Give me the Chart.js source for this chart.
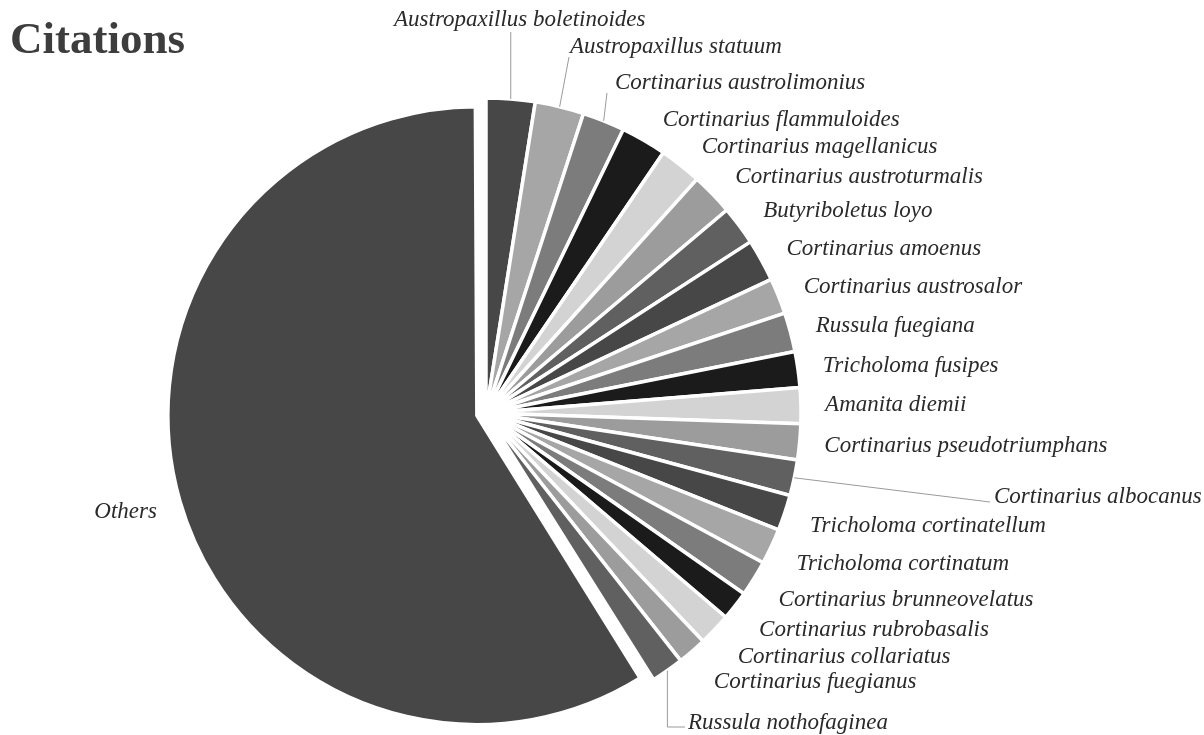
<!DOCTYPE html>
<html>
<head>
<meta charset="utf-8">
<script src="https://cdn.jsdelivr.net/npm/chart.js@4.4.1/dist/chart.umd.min.js"></script>
<style>
  html, body { margin: 0; padding: 0; background: #ffffff; }
  #wrap { position: relative; width: 1204px; height: 735px; }
</style>
</head>
<body>
<div id="wrap"><canvas id="chart" width="1204" height="735"></canvas></div>
<script>
// Species, in drawing order (clockwise from 12 o'clock)
const species = [
  'Austropaxillus boletinoides',
  'Austropaxillus statuum',
  'Cortinarius austrolimonius',
  'Cortinarius flammuloides',
  'Cortinarius magellanicus',
  'Cortinarius austroturmalis',
  'Butyriboletus loyo',
  'Cortinarius amoenus',
  'Cortinarius austrosalor',
  'Russula fuegiana',
  'Tricholoma fusipes',
  'Amanita diemii',
  'Cortinarius pseudotriumphans',
  'Cortinarius albocanus',
  'Tricholoma cortinatellum',
  'Tricholoma cortinatum',
  'Cortinarius brunneovelatus',
  'Cortinarius rubrobasalis',
  'Cortinarius collariatus',
  'Cortinarius fuegianus',
  'Russula nothofaginea',
  'Others'
];

// Number of citations per species
const citations = [15, 15, 13, 14, 13, 13, 12, 13, 11, 12, 11, 11, 11, 11, 11, 11, 11, 9, 10, 9, 10, 353];

// Grey palette, cycled over the slices
const greys = ['#474747', '#a6a6a6', '#7c7c7c', '#1b1b1b', '#d3d3d3', '#9c9c9c', '#606060'];

const chartTitle = 'Citations';

// Pie geometry
const PIE_RADIUS = 315;
const EXPLODED = 'Others';
const EXPLODE_PX = 9.5;        // how far the exploded slice is pulled out
const EXPLODED_RADIUS = 309;   // the pulled-out slice is drawn a little smaller

// Labels that sit away from their slice and are joined to it by a leader line
const callouts = {
  0:  { left: 394, y: 20,  path: p => [[p.x, p.y], [p.x, 32]] },
  1:  { left: 570, y: 47,  path: p => [[p.x, p.y], [569, 57]] },
  2:  { left: 615, y: 83,  path: p => [[p.x, p.y], [607, 93]] },
  13: { left: 994, y: 497, path: p => [[p.x, p.y], [990, 502]] },
  20: { left: 688, y: 723, path: p => [[p.x, p.y], [p.x, 727], [685, 727]] }
};

const LABEL_FONT = 'italic 23px "Liberation Serif", "Times New Roman", serif';
const LABEL_COLOR = '#2a2a2a';
const LABEL_GAP = 24;

const explodeSlice = {
  id: 'explodeSlice',
  afterDatasetsUpdate(chart) {
    const arcs = chart.getDatasetMeta(0).data;
    const i = species.indexOf(EXPLODED);
    // ArcElement adds offset/4 to the radius when it pulls a slice out
    if (arcs[i]) arcs[i].outerRadius = EXPLODED_RADIUS - EXPLODE_PX;
  }
};

const sliceLabels = {
  id: 'sliceLabels',
  afterDatasetsDraw(chart) {
    const ctx = chart.ctx;
    const arcs = chart.getDatasetMeta(0).data;
    ctx.save();
    ctx.font = LABEL_FONT;
    ctx.fillStyle = LABEL_COLOR;
    ctx.textBaseline = 'middle';
    arcs.forEach((arc, i) => {
      const mid = (arc.startAngle + arc.endAngle) / 2;
      const pulled = species[i] === EXPLODED;
      const shift = pulled ? EXPLODE_PX : 0;
      const radius = pulled ? EXPLODED_RADIUS : arc.outerRadius;
      const cx = arc.x + Math.cos(mid) * shift;
      const cy = arc.y + Math.sin(mid) * shift;
      const s = Math.sin(mid), c = Math.cos(mid);
      const co = callouts[i];
      if (co) {
        const edge = { x: cx + c * radius, y: cy + s * radius };
        const pts = co.path(edge);
        ctx.strokeStyle = '#9a9a9a';
        ctx.lineWidth = 1;
        ctx.beginPath();
        pts.forEach(([x, y], k) => (k ? ctx.lineTo(x, y) : ctx.moveTo(x, y)));
        ctx.stroke();
        ctx.textAlign = 'left';
        ctx.fillText(species[i], co.left, co.y);
        return;
      }
      const r = radius + LABEL_GAP;
      const right = c >= 0;
      const ax = cx + c * r + (right ? 8 * Math.abs(s) : 0);
      const ay = cy + s * r + (s > 0 ? 16 * s : 0);
      ctx.textAlign = right ? 'left' : 'right';
      ctx.fillText(species[i], ax, ay);
    });
    ctx.restore();
  }
};

const titleText = {
  id: 'titleText',
  afterDraw(chart) {
    const ctx = chart.ctx;
    ctx.save();
    ctx.font = 'bold 45px "Liberation Serif", "Times New Roman", serif';
    ctx.fillStyle = '#3d3d3d';
    ctx.textAlign = 'left';
    ctx.textBaseline = 'alphabetic';
    ctx.fillText(chartTitle, 10, 53);
    ctx.restore();
  }
};

new Chart(document.getElementById('chart'), {
  type: 'pie',
  data: {
    labels: species,
    datasets: [{
      data: citations,
      backgroundColor: species.map((_, i) => greys[i % greys.length]),
      borderColor: '#ffffff',
      borderWidth: 3.5,
      offset: species.map(s => (s === EXPLODED ? EXPLODE_PX * 4 : 0))
    }]
  },
  plugins: [explodeSlice, sliceLabels, titleText],
  options: {
    responsive: false,
    animation: false,
    radius: PIE_RADIUS,
    layout: { padding: { left: 0, right: 232, top: 91, bottom: 0 } },
    plugins: {
      legend: { display: false },
      tooltip: { enabled: false },
      title: { display: false }
    },
    events: []
  }
});
</script>
</body>
</html>
